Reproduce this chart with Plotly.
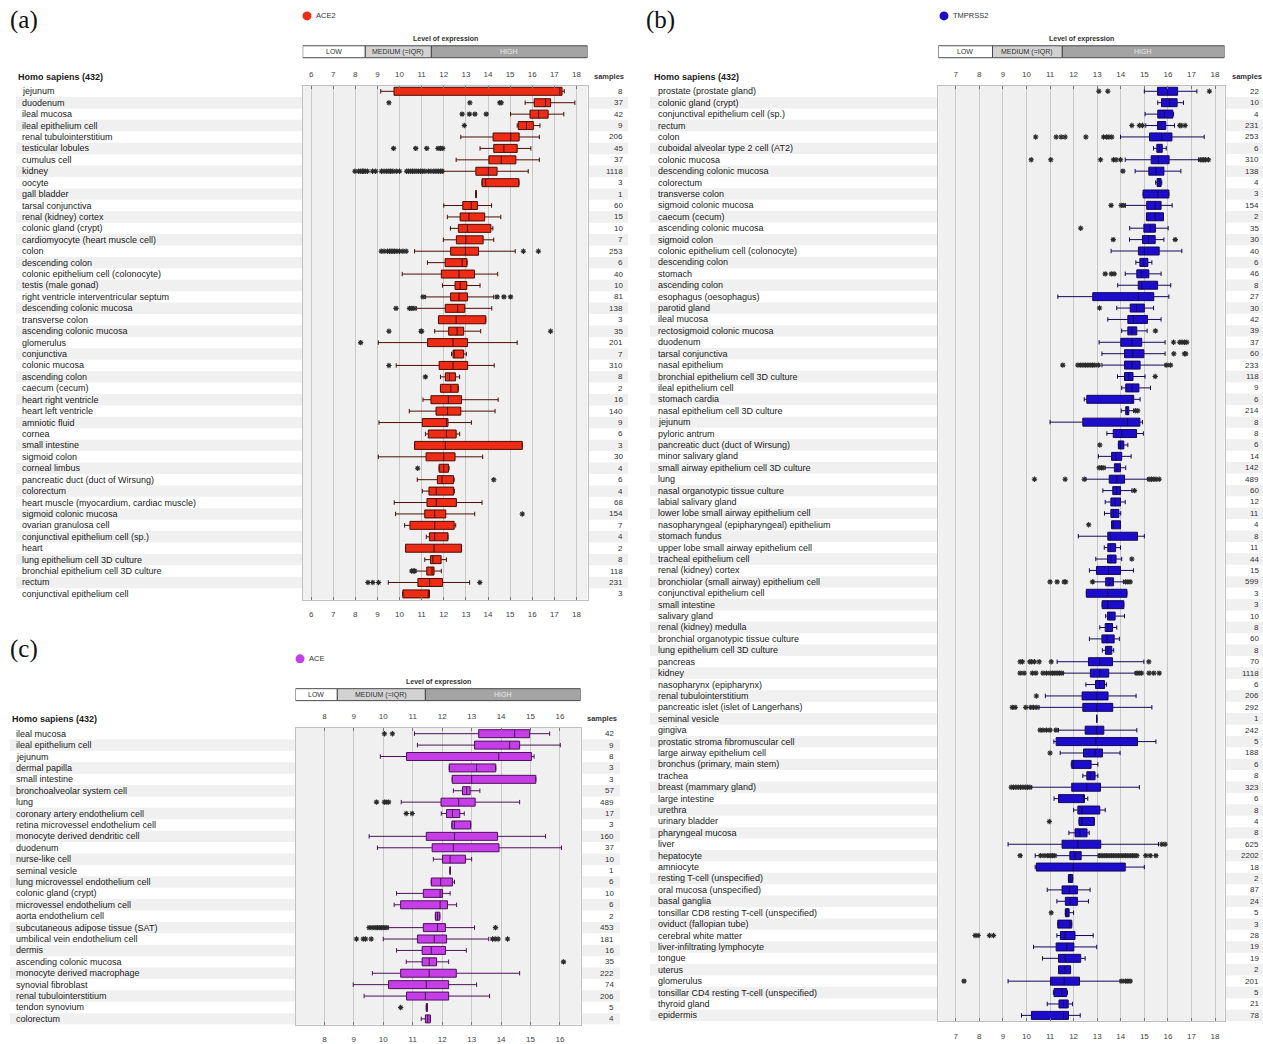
import plotly.graph_objects as go

# ---------------------------------------------------------------- DATA
# Panel (a) ACE2
cats_a = ["jejunum", "duodenum", "ileal mucosa", "ileal epithelium cell", "renal tubulointerstitium",
          "testicular lobules", "cumulus cell", "kidney", "oocyte", "gall bladder", "tarsal conjunctiva",
          "renal (kidney) cortex", "colonic gland (crypt)", "cardiomyocyte (heart muscle cell)", "colon",
          "descending colon", "colonic epithelium cell (colonocyte)", "testis (male gonad)",
          "right ventricle interventricular septum", "descending colonic mucosa", "transverse colon",
          "ascending colonic mucosa", "glomerulus", "conjunctiva", "colonic mucosa", "ascending colon",
          "caecum (cecum)", "heart right ventricle", "heart left ventricle", "amniotic fluid", "cornea",
          "small intestine", "sigmoid colon", "corneal limbus", "pancreatic duct (duct of Wirsung)",
          "colorectum", "heart muscle (myocardium, cardiac muscle)", "sigmoid colonic mucosa",
          "ovarian granulosa cell", "conjunctival epithelium cell (sp.)", "heart",
          "lung epithelium cell 3D culture", "bronchial epithelium cell 3D culture", "rectum",
          "conjunctival epithelium cell"]
samples_a = [8, 37, 42, 9, 206, 45, 37, 1118, 3, 1, 60, 15, 10, 7, 253, 6, 40, 10, 81, 138, 3, 35, 201, 7,
             310, 8, 2, 16, 140, 9, 6, 3, 30, 4, 6, 4, 68, 154, 7, 4, 2, 8, 118, 231, 3]
lf_a = [9.15, 15.68, 15.02, 15.32, 12.77, 13.64, 12.56, 11.97, 13.73, 13.46, 12.0, 12.16, 12.3, 11.98, 10.68,
        11.26, 10.12, 11.94, 11.18, 10.76, 11.76, 11.59, 9.04, 12.35, 9.85, 11.85, 11.85, 11.06, 10.44, 9.07,
        11.17, 10.68, 9.04, 11.79, 10.8, 11.03, 9.76, 9.82, 10.23, 11.21, 10.27, 11.14, 10.73, 9.49, 10.15]
q1_a = [9.75, 16.09, 15.9, 15.37, 14.23, 14.26, 14.04, 13.45, 13.73, 13.46, 12.86, 12.74, 12.66, 12.57, 12.31,
        12.06, 11.89, 12.51, 12.31, 12.07, 11.76, 12.22, 11.27, 12.42, 11.79, 12.07, 11.85, 11.42, 11.65, 11.03,
        11.3, 10.68, 11.2, 11.79, 11.71, 11.33, 11.24, 11.14, 10.47, 11.35, 10.27, 11.4, 11.23, 10.83, 10.15]
med_a = [17.25, 16.6, 16.29, 15.74, 15.03, 14.72, 14.6, 14.02, 13.9, 13.46, 13.24, 13.14, 13.07, 13.0, 12.98,
         12.83, 12.69, 12.74, 12.69, 12.63, 12.56, 12.6, 12.42, 12.47, 12.42, 12.26, 12.32, 12.21, 12.17, 12.12,
         12.12, 12.07, 12.0, 12.0, 11.92, 11.66, 11.66, 11.59, 11.59, 11.59, 11.56, 11.51, 11.47, 11.36, 11.3]
q3_a = [17.35, 16.83, 16.72, 16.05, 15.41, 15.32, 15.26, 14.41, 15.4, 13.46, 13.52, 13.85, 14.13, 13.78, 13.57,
        13.05, 13.39, 13.04, 13.07, 12.95, 13.9, 12.9, 13.07, 12.9, 13.08, 12.53, 12.65, 12.8, 12.77, 12.19,
        12.56, 15.55, 12.51, 12.21, 12.44, 12.45, 12.57, 12.09, 12.47, 12.19, 12.8, 11.88, 11.56, 11.94, 11.35]
uf_a = [17.45, 17.93, 17.43, 16.35, 16.32, 15.94, 16.32, 15.82, 15.4, 13.46, 14.16, 14.58, 14.22, 14.26, 15.23,
        13.05, 14.44, 13.64, 14.26, 14.17, 13.9, 13.67, 15.32, 13.02, 14.28, 12.72, 12.65, 14.46, 14.32, 13.25,
        12.72, 15.55, 13.76, 12.24, 12.47, 12.48, 13.73, 13.4, 12.54, 12.19, 12.8, 12.12, 11.89, 13.17, 11.35]
out_a = [[], [9.52, 13.18, 14.53, 14.6], [12.83, 13.16, 13.41, 13.92], [12.93], [],
         [9.73, 10.73, 11.23, 11.74, 11.85, 11.95], [],
         [7.98, 8.15, 8.25, 8.32, 8.38, 8.45, 8.55, 8.78, 8.92, 9.18, 9.3, 9.42, 9.52, 9.6, 9.7, 9.85, 10.0,
          10.32, 10.4, 10.5, 10.58, 10.66, 10.75, 10.85, 10.95, 11.05, 11.15, 11.3, 11.42, 11.55, 11.65,
          11.75, 11.85, 11.93],
         [], [], [], [], [], [],
         [9.17, 9.3, 9.45, 9.55, 9.62, 9.7, 9.78, 9.88, 10.0, 10.15, 10.3, 15.6, 16.28],
         [], [], [], [11.06, 14.41, 14.72, 15.02], [9.84, 10.45, 10.55, 10.65], [],
         [9.52, 10.97, 11.0, 16.83], [8.24], [], [9.52], [11.17], [], [], [], [], [], [], [], [10.82],
         [14.26], [], [], [15.55], [], [], [], [], [10.55, 10.62, 10.68], [8.57, 8.79, 9.05, 13.63], []]
ticks_a = [6, 7, 8, 9, 10, 11, 12, 13, 14, 15, 16, 17, 18]
levels_a = [8.45, 11.44]

# Panel (b) TMPRSS2
cats_b = ["prostate (prostate gland)", "colonic gland (crypt)", "conjunctival epithelium cell (sp.)", "rectum",
          "colon", "cuboidal alveolar type 2 cell (AT2)", "colonic mucosa", "descending colonic mucosa",
          "colorectum", "transverse colon", "sigmoid colonic mucosa", "caecum (cecum)",
          "ascending colonic mucosa", "sigmoid colon", "colonic epithelium cell (colonocyte)",
          "descending colon", "stomach", "ascending colon", "esophagus (oesophagus)", "parotid gland",
          "ileal mucosa", "rectosigmoid colonic mucosa", "duodenum", "tarsal conjunctiva", "nasal epithelium",
          "bronchial epithelium cell 3D culture", "ileal epithelium cell", "stomach cardia",
          "nasal epithelium cell 3D culture", "jejunum", "pyloric antrum", "pancreatic duct (duct of Wirsung)",
          "minor salivary gland", "small airway epithelium cell 3D culture", "lung",
          "nasal organotypic tissue culture", "labial salivary gland", "lower lobe small airway epithelium cell",
          "nasopharyngeal (epipharyngeal) epithelium", "stomach fundus", "upper lobe small airway epithelium cell",
          "tracheal epithelium cell", "renal (kidney) cortex", "bronchiolar (small airway) epithelium cell",
          "conjunctival epithelium cell", "small intestine", "salivary gland", "renal (kidney) medulla",
          "bronchial organotypic tissue culture", "lung epithelium cell 3D culture", "pancreas", "kidney",
          "nasopharynx (epipharynx)", "renal tubulointerstitium", "pancreatic islet (islet of Langerhans)",
          "seminal vesicle", "gingiva", "prostatic stroma fibromuscular cell", "large airway epithelium cell",
          "bronchus (primary, main stem)", "trachea", "breast (mammary gland)", "large intestine", "urethra",
          "urinary bladder", "pharyngeal mucosa", "liver", "hepatocyte", "amniocyte",
          "resting T-cell (unspecified)", "oral mucosa (unspecified)", "basal ganglia",
          "tonsillar CD8 resting T-cell (unspecified)", "oviduct (fallopian tube)", "cerebral white matter",
          "liver-infiltrating lymphocyte", "tongue", "uterus", "glomerulus",
          "tonsillar CD4 resting T-cell (unspecified)", "thyroid gland", "epidermis"]
samples_b = [22, 10, 4, 231, 253, 6, 310, 138, 4, 3, 154, 2, 35, 30, 40, 6, 46, 8, 27, 30, 42, 39, 37, 60,
             233, 118, 9, 6, 214, 8, 8, 6, 14, 142, 489, 60, 12, 11, 4, 8, 11, 44, 15, 599, 3, 3, 10, 8, 60,
             8, 70, 1118, 6, 206, 292, 1, 242, 5, 188, 6, 8, 323, 6, 8, 4, 8, 625, 2202, 18, 2, 87, 24, 5,
             3, 28, 19, 19, 2, 201, 5, 21, 78]
lf_b = [15.0, 15.57, 15.03, 15.06, 13.99, 15.39, 14.19, 14.61, 15.48, 14.95, 14.19, 15.09, 14.38, 14.37,
        13.59, 14.64, 14.19, 13.87, 11.33, 13.83, 13.45, 14.04, 13.08, 13.2, 13.2, 13.86, 14.04, 12.45, 14.02,
        11.0, 13.41, 13.9, 13.05, 13.34, 12.52, 13.24, 13.34, 13.31, 13.61, 12.2, 13.3, 12.94, 12.67, 12.84,
        12.54, 13.21, 13.36, 13.11, 12.67, 13.22, 11.3, 11.57, 12.52, 10.8, 10.54, 12.98, 11.36, 11.16, 11.43,
        11.9, 12.39, 10.22, 11.17, 12.0, 12.23, 11.8, 9.22, 10.37, 10.37, 11.78, 10.88, 11.29, 11.65, 11.33,
        11.29, 10.3, 10.68, 11.36, 9.22, 11.14, 10.88, 9.79]
q1_b = [15.56, 15.73, 15.57, 15.56, 15.22, 15.53, 15.29, 15.19, 15.54, 14.95, 15.1, 15.09, 14.98, 14.92,
        14.75, 14.81, 14.68, 14.74, 12.81, 14.4, 14.3, 14.3, 14.0, 14.16, 14.16, 14.16, 14.21, 12.56, 14.21,
        12.39, 13.68, 13.9, 13.61, 13.73, 13.51, 13.66, 13.58, 13.58, 13.61, 13.45, 13.45, 13.44, 12.97, 13.36,
        12.54, 13.21, 13.44, 13.34, 13.2, 13.35, 12.63, 12.71, 12.93, 12.36, 12.39, 12.98, 12.49, 11.26, 12.42,
        11.92, 12.56, 11.92, 11.36, 12.18, 12.23, 12.06, 11.51, 11.84, 10.42, 11.78, 11.51, 11.65, 11.65, 11.33,
        11.44, 11.26, 11.36, 11.36, 11.02, 11.17, 11.38, 10.21]
med_b = [15.98, 16.07, 15.85, 15.74, 15.74, 15.64, 15.6, 15.49, 15.63, 15.57, 15.46, 15.46, 15.25, 15.18,
         15.0, 14.96, 14.89, 14.89, 14.75, 14.67, 14.54, 14.47, 14.47, 14.51, 14.47, 14.33, 14.47, 14.47, 14.28,
         14.28, 14.04, 13.99, 13.79, 13.85, 13.83, 13.82, 13.76, 13.7, 13.69, 13.55, 13.56, 13.58, 13.48, 13.51,
         13.45, 13.45, 13.55, 13.46, 13.42, 13.46, 13.11, 13.11, 13.1, 12.98, 12.98, 12.98, 12.98, 12.94, 12.91,
         11.99, 12.7, 12.56, 12.42, 12.35, 12.35, 12.26, 12.18, 12.06, 11.98, 11.85, 11.82, 11.85, 11.71, 11.84,
         11.64, 11.71, 11.64, 11.64, 11.6, 11.5, 11.57, 11.57]
q3_b = [16.41, 16.39, 16.21, 15.91, 16.17, 15.76, 16.05, 15.83, 15.71, 16.04, 15.71, 15.81, 15.47, 15.46,
        15.63, 15.15, 15.19, 15.56, 15.4, 15.0, 15.13, 14.68, 14.89, 14.98, 14.82, 14.52, 14.77, 14.55, 14.34,
        14.81, 14.67, 14.13, 14.04, 13.99, 14.16, 13.99, 13.99, 13.92, 13.99, 14.71, 13.78, 13.8, 13.99, 13.69,
        14.26, 14.13, 13.76, 13.65, 13.72, 13.62, 13.65, 13.49, 13.31, 13.46, 13.66, 12.98, 13.28, 14.71, 13.22,
        12.74, 12.91, 13.14, 12.46, 13.11, 12.88, 12.57, 13.15, 12.32, 14.19, 11.96, 12.16, 12.16, 11.81, 11.92,
        12.06, 12.01, 12.3, 11.87, 12.25, 11.71, 11.77, 11.78]
uf_b = [17.23, 16.66, 16.24, 16.28, 17.54, 15.93, 17.3, 16.55, 15.74, 16.04, 16.18, 15.81, 16.01, 15.83,
        16.59, 15.32, 15.71, 16.12, 16.04, 15.39, 15.71, 15.12, 15.88, 15.88, 15.88, 15.03, 15.26, 14.82, 14.54,
        14.92, 14.96, 14.3, 14.44, 14.21, 15.15, 14.47, 14.19, 14.0, 13.99, 15.0, 13.99, 14.04, 14.54, 14.11,
        14.26, 14.13, 14.16, 13.83, 13.94, 13.7, 14.98, 14.61, 13.39, 14.65, 15.32, 12.98, 14.68, 15.49, 13.97,
        13.03, 13.03, 14.79, 12.6, 13.34, 12.88, 12.66, 15.6, 13.05, 15.0, 11.96, 12.7, 12.63, 12.0, 11.92,
        12.83, 12.98, 12.49, 11.87, 13.97, 11.74, 11.95, 12.28]
out_b = [[13.07, 13.45, 17.76], [], [], [14.47, 14.79, 14.92, 16.5, 16.56, 16.73],
         [10.39, 11.26, 11.47, 11.64, 12.52, 13.27, 13.4, 13.5, 13.62], [],
         [10.2, 11.03, 13.14, 13.69, 13.8, 13.99, 17.37, 17.45, 17.52, 17.6, 17.72], [14.09], [], [],
         [13.59, 14.02, 14.13], [], [12.3], [13.68, 16.31], [], [], [13.34, 13.6, 13.72], [], [], [13.1], [],
         [15.47], [16.24, 16.5, 16.6, 16.7, 16.8], [16.25, 16.7, 16.76],
         [11.54, 12.18, 12.3, 12.4, 12.5, 12.6, 12.7, 12.8, 12.9, 13.05, 15.95, 16.11], [15.46], [], [],
         [14.62, 14.72], [], [], [13.11], [], [13.08, 13.18, 13.25],
         [10.34, 11.64, 12.45, 15.2, 15.3, 15.4, 15.5, 15.63], [14.58], [], [], [12.64], [], [], [14.47], [],
         [11.0, 11.3, 11.6, 11.66, 12.8, 14.2, 14.3, 14.4], [], [], [], [], [], [],
         [9.73, 9.83, 10.14, 10.22, 10.34, 10.54, 11.05, 15.19],
         [9.73, 9.9, 10.25, 10.4, 10.7, 10.85, 11.0, 11.1, 11.2, 11.3, 11.4, 11.5, 14.68, 14.78, 14.88, 15.2,
          15.4, 15.63],
         [], [10.42], [9.4, 9.52, 9.97, 10.18, 10.3, 10.44], [], [10.58, 10.7, 10.85, 11.0, 11.25], [], [11.0],
         [], [], [9.35, 9.45, 9.55, 9.65, 9.75, 9.85, 9.95, 10.05, 10.15], [], [], [10.97], [], [15.74, 15.88],
         [9.73, 10.6, 10.75, 10.9, 11.0, 11.1, 11.2, 13.1, 13.2, 13.3, 13.4, 13.5, 13.6, 13.7, 13.8, 13.9, 14.0,
          14.1, 14.2, 14.3, 14.4, 14.5, 14.6, 14.68, 15.06, 15.25, 15.49],
         [], [], [], [], [11.05], [], [7.82, 7.95, 8.43, 8.6], [], [], [], [7.35, 14.05, 14.2, 14.3, 14.4],
         [], [], []]
ticks_b = [7, 8, 9, 10, 11, 12, 13, 14, 15, 16, 17, 18]
levels_b = [8.56, 11.52]

# Panel (c) ACE
cats_c = ["ileal mucosa", "ileal epithelium cell", "jejunum", "dermal papilla", "small intestine",
          "bronchoalveolar system cell", "lung", "coronary artery endothelium cell",
          "retina microvessel endothelium cell", "monocyte derived dendritic cell", "duodenum", "nurse-like cell",
          "seminal vesicle", "lung microvessel endothelium cell", "colonic gland (crypt)",
          "microvessel endothelium cell", "aorta endothelium cell", "subcutaneous adipose tissue (SAT)",
          "umbilical vein endothelium cell", "dermis", "ascending colonic mucosa", "monocyte derived macrophage",
          "synovial fibroblast", "renal tubulointerstitium", "tendon synovium", "colorectum"]
samples_c = [42, 9, 8, 3, 3, 57, 489, 17, 3, 160, 37, 10, 1, 6, 10, 6, 2, 453, 181, 16, 35, 222, 74, 206, 5, 4]
lf_c = [11.06, 11.16, 9.9, 12.24, 12.34, 12.38, 10.61, 11.97, 12.33, 9.52, 9.8, 11.7, 12.27, 11.63, 10.45,
        10.37, 11.77, 10.18, 10.0, 10.45, 10.78, 9.63, 8.98, 9.35, 11.46, 11.29]
q1_c = [13.24, 13.1, 10.79, 12.24, 12.34, 12.69, 11.96, 12.15, 12.33, 11.46, 11.66, 12.01, 12.27, 11.63, 11.36,
        10.59, 11.77, 11.36, 11.16, 11.32, 11.32, 10.59, 10.18, 10.79, 11.46, 11.43]
med_c = [14.46, 14.29, 13.92, 13.17, 13.0, 12.83, 12.56, 12.35, 12.42, 12.42, 12.38, 12.27, 12.27, 11.95,
         11.93, 11.93, 11.84, 11.84, 11.73, 11.63, 11.56, 11.56, 11.46, 11.43, 11.48, 11.51]
q3_c = [14.97, 14.63, 15.03, 13.82, 15.18, 12.95, 13.12, 12.6, 12.97, 13.88, 13.93, 12.79, 12.27, 12.35, 12.01,
        12.18, 11.92, 12.11, 12.15, 12.11, 11.81, 12.48, 12.22, 12.22, 11.5, 11.6]
uf_c = [15.65, 16.01, 15.12, 13.82, 15.18, 13.28, 14.63, 12.75, 12.97, 15.51, 16.05, 13.0, 12.27, 12.42, 12.27,
        12.49, 11.92, 13.1, 13.58, 12.82, 12.22, 14.63, 13.17, 13.61, 11.5, 11.6]
out_c = [[10.04, 10.31], [], [], [], [], [], [9.77, 10.04, 10.1, 10.18], [10.78, 10.98], [], [], [], [], [],
         [], [], [], [], [9.52, 9.62, 9.72, 9.8, 9.88, 9.95, 10.02, 10.1, 13.81],
         [9.09, 9.32, 9.4, 9.59, 13.71, 13.8, 13.9, 14.22], [], [16.12], [], [], [], [10.59], []]
ticks_c = [8, 9, 10, 11, 12, 13, 14, 15, 16]
levels_c = [8.44, 11.43]

# ---------------------------------------------------------------- LAYOUT HELPERS
W, H = 1263, 1044
FONT = "Liberation Sans, Arial, sans-serif"


def px(x):
    return x / W


def py(y):
    return 1 - y / H


panels = [
    dict(n="", top="4", letter="(a)", gene="ACE2", cats=cats_a, samples=samples_a,
         stats=(lf_a, q1_a, med_a, q3_a, uf_a), out=out_a, ticks=ticks_a, levels=levels_a,
         fill="#ee2b14", edge="#4a0d05", dot="#ee2b14",
         box=(302.7, 86, 587.5, 602.5), rng=(5.62, 18.5),
         letter_xy=(8, 20), dot_xy=(307, 16), level_y=(46, 58), hs_xy=(16, 77),
         label_x=20, stripe_x=(16, 628), samp_x=625, samp_hdr=(609, 77)),
    dict(n="2", top="5", letter="(b)", gene="TMPRSS2", cats=cats_b, samples=samples_b,
         stats=(lf_b, q1_b, med_b, q3_b, uf_b), out=out_b, ticks=ticks_b, levels=levels_b,
         fill="#1d0ccc", edge="#14085a", dot="#1d0ccc",
         box=(938.3, 86, 1224.5, 1026), rng=(6.26, 18.4),
         letter_xy=(644, 20), dot_xy=(944, 16), level_y=(46, 58), hs_xy=(652, 77),
         label_x=656, stripe_x=(650, 1263), samp_x=1261, samp_hdr=(1247, 77)),
    dict(n="3", top="6", letter="(c)", gene="ACE", cats=cats_c, samples=samples_c,
         stats=(lf_c, q1_c, med_c, q3_c, uf_c), out=out_c, ticks=ticks_c, levels=levels_c,
         fill="#c63ee8", edge="#4b1257", dot="#c63ee8",
         box=(295.5, 731.5, 580.6, 1029.5), rng=(7.02, 16.7),
         letter_xy=(8, 652), dot_xy=(300, 662), level_y=(692, 704), hs_xy=(10, 722),
         label_x=14, stripe_x=(10, 620), samp_x=616, samp_hdr=(602, 722)),
]

fig = go.Figure()
shapes, annotations = [], []
layout_axes = {}

for p in panels:
    n, top = p["n"], p["top"]
    xa, ya, xt = "x" + n, "y" + n, "x" + top
    x0, y0, x1, y1 = p["box"]
    lf, q1, med, q3, uf = p["stats"]
    cats = p["cats"]
    N = len(cats)

    fig.add_trace(go.Box(
        y=cats, q1=q1, median=med, q3=q3, lowerfence=lf, upperfence=uf,
        orientation="h", fillcolor=p["fill"], line=dict(color=p["edge"], width=1),
        width=0.7, whiskerwidth=0.55, xaxis=xa, yaxis=ya, showlegend=False, name=p["gene"]))

    ox, oy = [], []
    for c, vals in zip(cats, p["out"]):
        for v in vals:
            ox.append(v)
            oy.append(c)
    fig.add_trace(go.Scatter(
        x=ox, y=oy, mode="markers", xaxis=xt, yaxis=ya, showlegend=False,
        marker=dict(symbol="asterisk-open", size=4.5, color="#2a2a2a",
                    line=dict(width=1.1, color="#2a2a2a"))))

    common_x = dict(range=list(p["rng"]), tickvals=p["ticks"], ticktext=[str(t) for t in p["ticks"]],
                    tickfont=dict(family=FONT, size=8, color="#444"), ticks="inside", ticklen=3,
                    tickcolor="#777", fixedrange=True, zeroline=False)
    layout_axes["xaxis" + n] = dict(domain=[px(x0), px(x1)], anchor=ya, side="bottom",
                                    showgrid=True, gridcolor="#c8c8c8", gridwidth=1,
                                    showline=True, mirror=True, linecolor="#c0c0c0",
                                    ticklabelstandoff=7, **common_x)
    layout_axes["xaxis" + top] = dict(overlaying=xa, matches=xa, anchor=ya, side="top",
                                      showgrid=False, showline=False, ticklabelstandoff=6, **common_x)
    layout_axes["yaxis" + n] = dict(domain=[py(y1), py(y0)], anchor=xa, type="category",
                                    categoryorder="array", categoryarray=cats,
                                    range=[N - 0.5, -0.5], showticklabels=False, showgrid=False,
                                    showline=True, mirror=True, linecolor="#c0c0c0", ticks="",
                                    zeroline=False, fixedrange=True)

    # alternating row stripes (label column and samples column)
    sx0, sx1 = p["stripe_x"]
    for i in range(1, N, 2):
        for a, b in ((sx0, x0), (x1 + 1.5, sx1)):
            shapes.append(dict(type="rect", xref="paper", yref=ya, x0=px(a), x1=px(b),
                               y0=i - 0.5, y1=i + 0.5, fillcolor="#f0f0f0", line=dict(width=0),
                               layer="below"))

    # row labels and sample counts
    for c, s in zip(cats, p["samples"]):
        annotations.append(dict(x=px(p["label_x"]), y=c, xref="paper", yref=ya, text=c, showarrow=False,
                                xanchor="left", yanchor="middle",
                                font=dict(family=FONT, size=9, color="#1a1a1a")))
        annotations.append(dict(x=px(p["samp_x"]), y=c, xref="paper", yref=ya, text=str(s),
                                showarrow=False, xanchor="right", yanchor="middle",
                                font=dict(family=FONT, size=8, color="#333")))

    # header texts
    hx, hy = p["hs_xy"]
    annotations.append(dict(x=px(hx), y=py(hy), xref="paper", yref="paper", text="<b>Homo sapiens (432)</b>",
                            showarrow=False, xanchor="left", yanchor="middle",
                            font=dict(family=FONT, size=9, color="#1a1a1a")))
    sx, sy = p["samp_hdr"]
    annotations.append(dict(x=px(sx), y=py(sy), xref="paper", yref="paper", text="<b>samples</b>",
                            showarrow=False, xanchor="center", yanchor="middle",
                            font=dict(family=FONT, size=7.5, color="#333")))
    lx, ly = p["letter_xy"]
    annotations.append(dict(x=px(lx), y=py(ly), xref="paper", yref="paper", text=p["letter"],
                            showarrow=False, xanchor="left", yanchor="middle",
                            font=dict(family="Liberation Serif, Times New Roman, serif", size=25,
                                      color="#111")))

    # legend dot + gene
    dx, dy = p["dot_xy"]
    shapes.append(dict(type="circle", xref="paper", yref="paper", x0=px(dx - 4.5), x1=px(dx + 4.5),
                       y0=py(dy + 4.5), y1=py(dy - 4.5), fillcolor=p["dot"], line=dict(width=0)))
    annotations.append(dict(x=px(dx + 7), y=py(dy), xref="paper", yref="paper", text=p["gene"],
                            showarrow=False, xanchor="left", yanchor="middle",
                            font=dict(family=FONT, size=7.5, color="#333")))

    # level of expression bar
    ly0, ly1 = p["level_y"]
    lo, hi = p["rng"]
    b1, b2 = p["levels"]
    segs = [(lo, b1, "#ffffff", "LOW", "#333"), (b1, b2, "#d2d2d2", "MEDIUM (=IQR)", "#333"),
            (b2, hi, "#a4a4a4", "HIGH", "#e8e8e8")]
    for a, b, fc, txt, tc in segs:
        shapes.append(dict(type="rect", xref=xa, yref="paper", x0=a, x1=b, y0=py(ly1), y1=py(ly0),
                           fillcolor=fc, line=dict(color="#4a4a4a", width=1)))
        annotations.append(dict(x=(a + b) / 2, y=py((ly0 + ly1) / 2), xref=xa, yref="paper", text=txt,
                                showarrow=False, xanchor="center", yanchor="middle",
                                font=dict(family=FONT, size=7, color=tc)))
    annotations.append(dict(x=0.5, y=py(ly0 - 7), xref=xa + " domain", yref="paper",
                            text="<b>Level of expression</b>", showarrow=False, xanchor="center",
                            yanchor="middle", font=dict(family=FONT, size=7, color="#333")))

fig.update_layout(
    width=W, height=H, margin=dict(l=0, r=0, t=0, b=0), autosize=False,
    paper_bgcolor="white", plot_bgcolor="#f0f0f0", showlegend=False,
    shapes=shapes, annotations=annotations, **layout_axes)

fig.write_html("out.html", config={"displayModeBar": False},
               post_script="document.body.style.margin='0px';document.body.style.overflow='hidden';")
